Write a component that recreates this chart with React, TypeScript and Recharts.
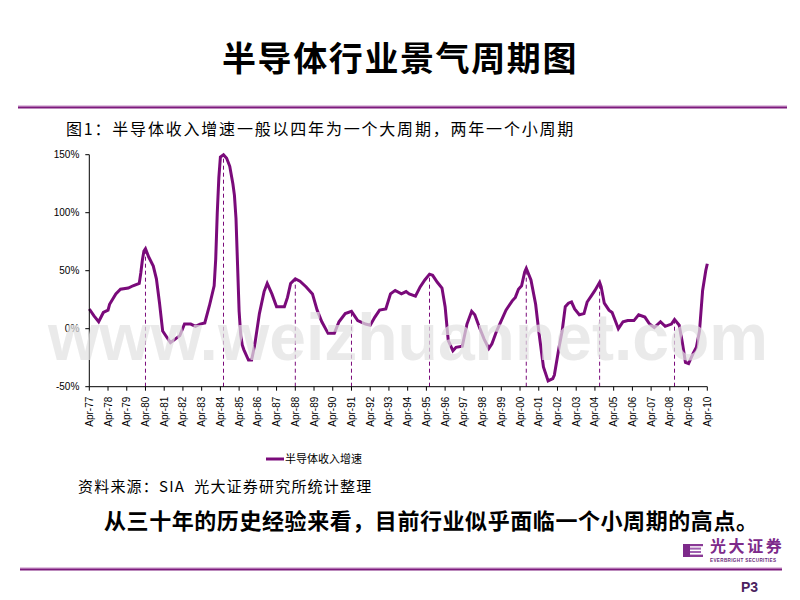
import React from 'react';
import { LineChart, Line, XAxis, YAxis, ReferenceLine } from 'recharts';

// Monthly samples (YYYY-MM) and growth (%)
const months = [
  '1977-04', '1977-07', '1977-10', '1978-01', '1978-04', '1978-05', '1978-09', '1978-12',
  '1979-05', '1979-08', '1979-12', '1980-01', '1980-02', '1980-03', '1980-04', '1980-06',
  '1980-09', '1980-11', '1981-01', '1981-03', '1981-06', '1981-08', '1981-11', '1982-02',
  '1982-05', '1982-09', '1982-12', '1983-03', '1983-06', '1983-09', '1983-12', '1984-01',
  '1984-02', '1984-03', '1984-04', '1984-06', '1984-08', '1984-10', '1984-12', '1985-01',
  '1985-02', '1985-03', '1985-04', '1985-05', '1985-06', '1985-07', '1985-10', '1985-12',
  '1986-02', '1986-05', '1986-08', '1986-10', '1987-01', '1987-04', '1987-09', '1987-11',
  '1988-01', '1988-04', '1988-07', '1988-11', '1989-03', '1989-06', '1989-09', '1990-01',
  '1990-05', '1990-08', '1990-12', '1991-04', '1991-08', '1992-01', '1992-04', '1992-07',
  '1992-10', '1993-02', '1993-05', '1993-08', '1993-12', '1994-03', '1994-05', '1994-09',
  '1994-12', '1995-03', '1995-06', '1995-08', '1995-11', '1996-02', '1996-04', '1996-06',
  '1996-09', '1996-11', '1997-03', '1997-06', '1997-09', '1997-11', '1998-02', '1998-05',
  '1998-08', '1998-10', '1999-01', '1999-04', '1999-07', '1999-11', '2000-01', '2000-03',
  '2000-05', '2000-07', '2000-08', '2000-11', '2001-02', '2001-04', '2001-07', '2001-10',
  '2002-01', '2002-02', '2002-05', '2002-07', '2002-09', '2002-11', '2003-01', '2003-03',
  '2003-06', '2003-09', '2003-11', '2004-02', '2004-04', '2004-07', '2004-08', '2004-10',
  '2005-01', '2005-03', '2005-05', '2005-07', '2005-10', '2006-01', '2006-05', '2006-08',
  '2006-12', '2007-03', '2007-06', '2007-10', '2008-01', '2008-05', '2008-07', '2008-10',
  '2008-12', '2009-02', '2009-04', '2009-07', '2009-09', '2009-11', '2010-01', '2010-03',
  '2010-04',
];
const growth = [
  17, 11, 6, 14, 16, 21, 30, 34,
  35, 37, 39, 48, 59, 67, 69, 62,
  54, 43, 22, -2, -8, -12, -9, -6,
  4, 4, 2, 4, 5, 20, 37, 60,
  100, 130, 148, 150, 147, 140, 125, 115,
  95, 55, 15, -5, -14, -18, -27, -27,
  -14, 13, 32, 39, 30, 19, 19, 27,
  39, 43, 41, 36, 30, 16, 6, -4,
  -4, 6, 13, 15, 7, 4, 3, 10,
  16, 17, 30, 33, 30, 32, 30, 28,
  36, 42, 47, 46, 40, 35, 19, -10,
  -19, -16, -15, 4, 15, 12, 1, -9,
  -17, -13, -2, 7, 16, 24, 27, 34,
  37, 49, 52, 42, 21, -2, -33, -45,
  -43, -40, -16, -2, 19, 22, 23, 17,
  12, 13, 23, 29, 33, 40, 36, 22,
  16, 14, 7, 0, 6, 7, 7, 12,
  10, 4, 1, 6, 2, 4, 8, 3,
  -12, -29, -30, -21, -16, -2, 33, 50,
  56,
];

const tickLabels = [
  'Apr-77', 'Apr-78', 'Apr-79', 'Apr-80', 'Apr-81', 'Apr-82', 'Apr-83', 'Apr-84', 'Apr-85',
  'Apr-86', 'Apr-87', 'Apr-88', 'Apr-89', 'Apr-90', 'Apr-91', 'Apr-92', 'Apr-93', 'Apr-94',
  'Apr-95', 'Apr-96', 'Apr-97', 'Apr-98', 'Apr-99', 'Apr-00', 'Apr-01', 'Apr-02', 'Apr-03',
  'Apr-04', 'Apr-05', 'Apr-06', 'Apr-07', 'Apr-08', 'Apr-09', 'Apr-10',
];
const yTicks = [-50, 0, 50, 100, 150];

// Cycle peaks marked with dashed drop lines
const peakMonths = ['1980-04', '1984-06', '1988-04', '1991-04', '1995-06', '2000-08', '2004-07', '2008-07'];
const peakValues = [69, 150, 43, 15, 47, 52, 40, 8];

const seriesName = '半导体收入增速';

const toT = (m: string) => {
  const [y, mo] = m.split('-').map(Number);
  return y + (mo - 1) / 12;
};
const labelT = (l: string) => {
  const yy = Number(l.slice(4));
  return (yy < 50 ? 2000 + yy : 1900 + yy) + 3 / 12;
};
const data = months.map((m, i) => ({ t: toT(m), v: growth[i] }));
const xTicks = tickLabels.map(labelT);

const PURPLE = '#7a0a7a';
const CJK = '"Noto Sans CJK SC", "Noto Sans", sans-serif';
const LATIN = '"Liberation Sans", Arial, sans-serif';

const XTick = (props: any) => {
  const { x, y, payload } = props;
  const idx = xTicks.findIndex((t) => Math.abs(t - payload.value) < 1e-6);
  return (
    <text
      x={x}
      y={y}
      transform={`rotate(-90, ${x}, ${y})`}
      textAnchor="end"
      dy="0.35em"
      fontSize={10}
      fontFamily={LATIN}
      fill="#000"
    >
      {idx >= 0 ? tickLabels[idx] : ''}
    </text>
  );
};

export default function App() {
  return (
    <div
      style={{
        position: 'absolute',
        left: 0,
        top: 0,
        width: 800,
        height: 600,
        background: '#fff',
        overflow: 'hidden',
      }}
    >
      <svg width={800} height={600} style={{ position: 'absolute', left: 0, top: 0 }}>
        <text x={400} y={71} textAnchor="middle" fontFamily={CJK} fontWeight={700} fontSize={34} letterSpacing={1.6} fill="#000">
          半导体行业景气周期图
        </text>
        <rect x={18} y={105.5} width={769} height={1} fill="#c58ac5" />
        <rect x={18} y={106.5} width={769} height={2} fill="#7d1a7d" />
        <text x={66} y={135} fontFamily={CJK} fontSize={16} letterSpacing={1.8} fill="#000">
          图1：半导体收入增速一般以四年为一个大周期，两年一个小周期
        </text>
        {/* legend */}
        <line x1={266} y1={459} x2={284} y2={459} stroke={PURPLE} strokeWidth={3} />
        <text x={285} y={463} fontFamily={CJK} fontSize={11} fill="#000">
          {seriesName}
        </text>
        <text x={78} y={492} fontFamily={CJK} fontSize={15} letterSpacing={1.2} fill="#000" style={{ whiteSpace: 'pre' }}>
          {'资料来源：SIA  光大证券研究所统计整理'}
        </text>
        <text x={104} y={529} fontFamily={CJK} fontWeight={700} fontSize={22} letterSpacing={0.57} fill="#000">
          从三十年的历史经验来看，目前行业似乎面临一个小周期的高点。
        </text>
        {/* logo */}
        <rect x={683} y={544} width={7} height={13} fill="#7d2a8a" />
        <rect x={690} y={544} width={13} height={2.2} fill="#8a3a96" />
        <rect x={690} y={547.6} width={11} height={2} fill="#a060b0" />
        <rect x={690} y={551} width={11} height={2} fill="#a060b0" />
        <rect x={690} y={554.6} width={13} height={2.4} fill="#8a3a96" />
        <text x={710} y={552} fontFamily={CJK} fontWeight={700} fontSize={16} letterSpacing={2.6} fill="#7d2a8a">
          光大证券
        </text>
        <text x={710} y={562} fontFamily={LATIN} fontWeight={700} fontSize={4.6} letterSpacing={0.35} fill="#6a2a7a">
          EVERBRIGHT SECURITIES
        </text>
        <rect x={20} y={567.5} width={762} height={1} fill="#c58ac5" />
        <rect x={20} y={568.5} width={762} height={2} fill="#7d1a7d" />
        <text x={741} y={592} fontFamily={LATIN} fontWeight={700} fontSize={14} fill="#4b1f5f">
          P3
        </text>
      </svg>

      <LineChart
        width={800}
        height={440}
        data={data}
        margin={{ top: 154.7, right: 92.7, bottom: 0, left: 0 }}
        style={{ position: 'absolute', left: 0, top: 0 }}
      >
        <XAxis
          dataKey="t"
          type="number"
          domain={[xTicks[0], xTicks[xTicks.length - 1]]}
          ticks={xTicks}
          interval={0}
          height={53.3}
          tick={<XTick />}
          tickSize={4}
          tickMargin={6}
          axisLine={{ stroke: '#000' }}
          tickLine={{ stroke: '#000' }}
        />
        <YAxis
          type="number"
          domain={[-50, 150]}
          ticks={yTicks}
          width={89.3}
          tickFormatter={(v: number) => `${v}%`}
          tick={{ fill: '#000', fontSize: 10, fontFamily: LATIN }}
          tickSize={4}
          tickMargin={6}
          axisLine={{ stroke: '#000' }}
          tickLine={{ stroke: '#000' }}
          interval={0}
        />
        {peakMonths.map((m, i) => (
          <ReferenceLine
            key={m}
            segment={[
              { x: toT(m), y: -50 },
              { x: toT(m), y: peakValues[i] },
            ]}
            stroke={PURPLE}
            strokeDasharray="4 3"
            strokeWidth={1}
          />
        ))}
        <Line
          type="linear"
          dataKey="v"
          stroke={PURPLE}
          strokeWidth={3}
          dot={false}
          isAnimationActive={false}
        />
      </LineChart>

      <svg width={800} height={600} style={{ position: 'absolute', left: 0, top: 0, pointerEvents: 'none' }}>
        <text x={48} y={360} fontFamily={LATIN} fontWeight={700} fontSize={66} fill="rgba(226,226,226,0.72)">
          www.weizhuannet.com
        </text>
      </svg>
    </div>
  );
}
